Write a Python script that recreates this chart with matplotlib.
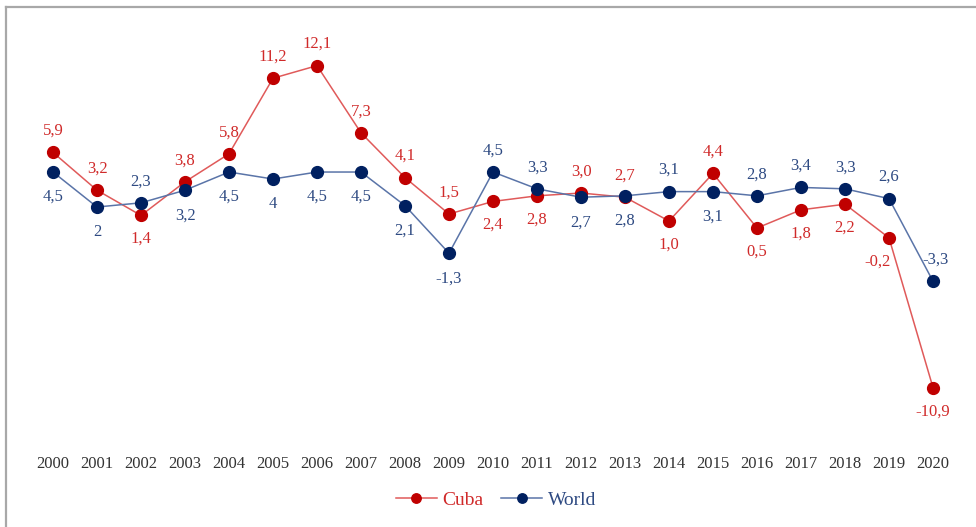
import matplotlib
matplotlib.use("Agg")
from matplotlib import pyplot as plt
from matplotlib.lines import Line2D

years = list(range(2000, 2021))
cuba = [5.9, 3.2, 1.4, 3.8, 5.8, 11.2, 12.1, 7.3, 4.1, 1.5, 2.4,
        2.8, 3.0, 2.7, 1.0, 4.4, 0.5, 1.8, 2.2, -0.2, -10.9]
world = [4.5, 2, 2.3, 3.2, 4.5, 4, 4.5, 4.5, 2.1, -1.3, 4.5,
         3.3, 2.7, 2.8, 3.1, 3.1, 2.8, 3.4, 3.3, 2.6, -3.3]

# +1 puts the value label above the point, -1 below
cuba_side = [1, 1, -1, 1, 1, 1, 1, 1, 1, 1, -1,
             -1, 1, 1, -1, 1, -1, -1, -1, -1, -1]
world_side = [-1, -1, 1, -1, -1, -1, -1, -1, -1, -1, 1,
              1, -1, -1, 1, -1, 1, 1, 1, 1, 1]

plt.rcParams['font.family'] = ['Liberation Serif', 'DejaVu Serif']

W, H = 976, 527
fig = plt.figure(figsize=(W / 100, H / 100), dpi=100)
# axes box in pixels: x 20..966, y 20..445 from the top
ax = fig.add_axes([20 / W, 1 - 445 / H, 946 / W, 425 / H])

red_mk, red_ln, red_tx = '#C00000', '#E05A5A', '#D02A2A'
blue_mk, blue_ln, blue_tx = '#002060', '#5A74A8', '#2E4A82'

ax.plot(years, cuba, color=red_ln, lw=1.1, marker='o', ms=8.5,
        mfc=red_mk, mec=red_mk, label='Cuba', zorder=3)
ax.plot(years, world, color=blue_ln, lw=1.1, marker='o', ms=8.5,
        mfc=blue_mk, mec=blue_mk, label='World', zorder=3)

def fmt(v, fixed):
    s = f"{v:.1f}" if fixed else f"{v:g}"
    return s.replace('.', ',')

for i, yr in enumerate(years):
    dx = -8 if yr == 2019 else 0
    up = 15.5 if cuba_side[i] > 0 else -17
    ax.annotate(fmt(cuba[i], True), (yr, cuba[i]),
                xytext=(dx, up), textcoords='offset points',
                ha='center', va='center', fontsize=12, color=red_tx)
    dx = 2 if yr == 2020 else 0
    up = 15.5 if world_side[i] > 0 else -18
    ax.annotate(fmt(world[i], False), (yr, world[i]),
                xytext=(dx, up), textcoords='offset points',
                ha='center', va='center', fontsize=12, color=blue_tx)

ax.set_xlim(1999.25, 2020.75)
ax.set_ylim(-15.0, 15.36)
ax.set_xticks(years)
ax.set_xticklabels([str(y) for y in years], fontsize=12, color='#333333')
ax.tick_params(axis='x', length=0, pad=8)
ax.set_yticks([])
for sp in ax.spines.values():
    sp.set_visible(False)

leg = fig.legend(loc='center', bbox_to_anchor=(496 / W, 1 - 500 / H), ncol=2,
                 frameon=False, fontsize=14, handlelength=2.1,
                 columnspacing=0.9, handletextpad=0.3, markerscale=0.8)
for txt, c in zip(leg.get_texts(), [red_tx, blue_tx]):
    txt.set_color(c)

# frame lines along the top and left edges
fig.add_artist(Line2D([6 / W, 1], [1 - 7 / H, 1 - 7 / H], color='#A8A8A8', lw=1.6))
fig.add_artist(Line2D([6 / W, 6 / W], [0, 1 - 7 / H], color='#A8A8A8', lw=1.6))

fig.savefig('out.png', dpi=100)
